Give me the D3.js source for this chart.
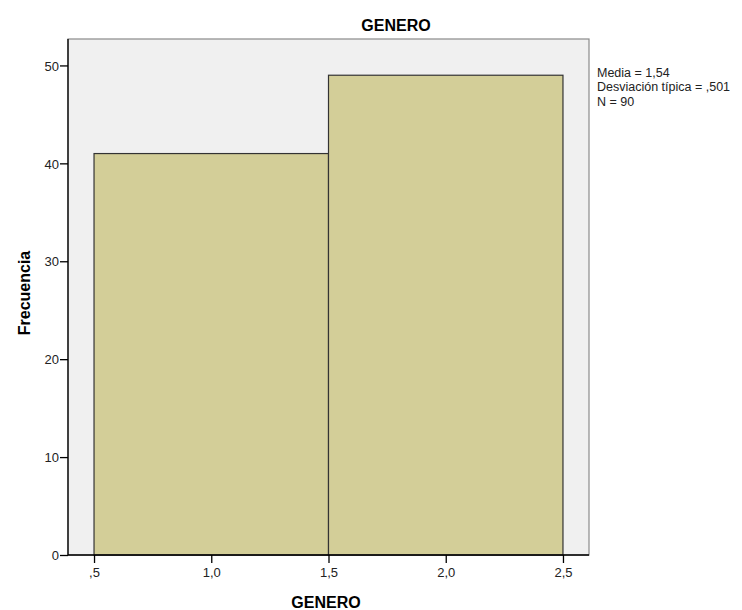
<!DOCTYPE html>
<html><head><meta charset="utf-8">
<script src="https://cdn.jsdelivr.net/npm/d3@7"></script>
<style>body{margin:0;background:#fff}svg{display:block}</style>
</head><body>
<script>
const binStarts = [0.5, 1.5];
const binEnds = [1.5, 2.5];
const frequencies = [41, 49];
const xTicks = [0.5, 1.0, 1.5, 2.0, 2.5];
const yTicks = [0, 10, 20, 30, 40, 50];
const statsLines = ["Media = 1,54", "Desviación típica = ,501", "N = 90"];
const title = "GENERO";
const xLabel = "GENERO";
const yLabel = "Frecuencia";

const W = 742, H = 610;
const m = {left: 68, top: 39, right: 589, bottom: 555};
const FF = "Arial, 'Liberation Sans', sans-serif";
const svg = d3.select("body").append("svg").attr("width", W).attr("height", H)
  .style("font-family", FF);

const x = d3.scaleLinear().domain([0.389, 2.611]).range([m.left, m.right]);
const y = d3.scaleLinear().domain([0, 52.7]).range([m.bottom, m.top]);

svg.append("rect").attr("x", m.left).attr("y", m.top)
  .attr("width", m.right - m.left).attr("height", m.bottom - m.top)
  .attr("fill", "#f0f0f0").attr("stroke", "#8a8a8a").attr("stroke-width", 1.2);

svg.selectAll("rect.bar").data(frequencies).enter().append("rect").attr("class", "bar")
  .attr("x", (d, i) => x(binStarts[i]))
  .attr("y", d => y(d))
  .attr("width", (d, i) => x(binEnds[i]) - x(binStarts[i]))
  .attr("height", d => y(0) - y(d))
  .attr("fill", "#d3ce98").attr("stroke", "#333").attr("stroke-width", 1.2);

const xFmt = v => { let s = v.toFixed(1).replace(".", ","); if (s.startsWith("0")) s = s.slice(1); return s; };

const xa = svg.append("g").attr("transform", `translate(0,${m.bottom})`)
  .call(d3.axisBottom(x).tickValues(xTicks).tickFormat(xFmt).tickSize(8).tickSizeOuter(0));
const ya = svg.append("g").attr("transform", `translate(${m.left},0)`)
  .call(d3.axisLeft(y).tickValues(yTicks).tickFormat(d => String(d)).tickSize(8).tickSizeOuter(0));
[xa, ya].forEach(a => {
  a.select(".domain").remove();
  a.selectAll("line").attr("stroke", "#000").attr("stroke-width", 1.3);
  a.selectAll("text").attr("font-size", 13).attr("fill", "#222").attr("font-family", FF);
});
xa.selectAll("text").attr("dy", null).attr("y", 22);
ya.selectAll("text").attr("x", -9).attr("dy", "0.36em");

svg.append("line").attr("x1", m.left).attr("x2", m.left).attr("y1", m.top).attr("y2", m.bottom)
  .attr("stroke", "#000").attr("stroke-width", 1.3);
svg.append("line").attr("x1", m.left).attr("x2", m.right).attr("y1", m.bottom).attr("y2", m.bottom)
  .attr("stroke", "#000").attr("stroke-width", 1.3);

svg.append("text").attr("x", 396).attr("y", 31)
  .attr("text-anchor", "middle").attr("font-weight", "bold").attr("font-size", 16).text(title);
svg.append("text").attr("x", 326).attr("y", 608)
  .attr("text-anchor", "middle").attr("font-weight", "bold").attr("font-size", 16).text(xLabel);
svg.append("text").attr("transform", "translate(30,293) rotate(-90)")
  .attr("text-anchor", "middle").attr("font-weight", "bold").attr("font-size", 16).text(yLabel);

svg.append("g").selectAll("text").data(statsLines).enter().append("text")
  .attr("x", 597).attr("y", (d, i) => 77 + i * 14.3)
  .attr("font-size", 12.5).attr("fill", "#222").text(d => d);
</script>
</body></html>
